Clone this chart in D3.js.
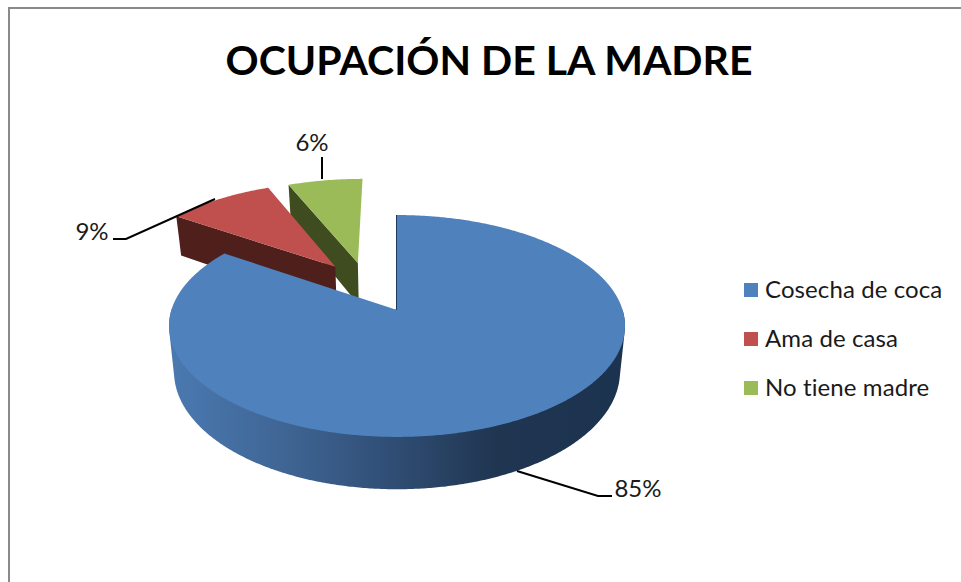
<!DOCTYPE html>
<html>
<head>
<meta charset="utf-8">
<script src="https://cdn.jsdelivr.net/npm/d3@7/dist/d3.min.js"></script>
<style>
html,body{margin:0;padding:0;background:#fff;overflow:hidden}
text{font-family:Lato,"Open Sans",sans-serif;fill:#1a1a1a}
</style>
</head>
<body>
<svg id="chart" width="961" height="582"></svg>
<script>
const titleText = "OCUPACIÓN DE LA MADRE";
const categories = ["Cosecha de coca", "Ama de casa", "No tiene madre"];
const values = [84.5, 9.1, 6.4];
const topColors = ["#4f81bd", "#c0504d", "#9bbb59"];
const sideColors = ["#1f3a5c", "#4f1f1c", "#3f4c20"];

// layout (not data)
const explode = [[0, 0], [-0.29, -0.423], [-0.185, -0.461]];
const P = {x0: 397, R: 225.6, yApex: 310, a: 64, k: 0.144, depth: 44.8, shrink: 0.022};
const labelLayout = [
  {x: 638, y: 488, path: [[612,496],[598,496],[517,471]]},
  {x: 92,  y: 231, path: [[113,239],[126,239],[215,199]]},
  {x: 312, y: 142, path: [[322,157],[322,179]]}
];

const svg = d3.select("#chart");

// frame
svg.append("path").attr("d", "M9,582V8H961").attr("fill", "none")
   .attr("stroke", "#8a8a8a").attr("stroke-width", 2);

svg.append("text").attr("x", 489).attr("y", 75).attr("text-anchor", "middle")
   .attr("font-size", 41).attr("font-weight", 700).style("fill", "#000").text(titleText);

// projection of the tilted disc
function project(u, v, z) {
  const w = 1 - P.k * v;
  return [
    P.x0 + P.R * u / w * (1 - P.shrink * z),
    (P.a * v + P.yApex) / w + P.depth * z / w
  ];
}
const rim = (t, off, z) => project(Math.sin(t) + off[0], -Math.cos(t) + off[1], z);
const line = d3.line();

const slices = d3.pie().sort(null).value(d => d)(values);
const defs = svg.append("defs");
const grad = defs.append("linearGradient").attr("id", "wall")
  .attr("gradientUnits", "userSpaceOnUse").attr("x1", 172).attr("x2", 626).attr("y1", 0).attr("y2", 0);
[[0, "#4a79b0"], [0.25, "#3f6594"], [0.5, "#2f4c72"], [0.72, "#1f3550"], [1, "#1c3350"]]
  .forEach(s => grad.append("stop").attr("offset", s[0]).attr("stop-color", s[1]));

const step = Math.PI / 180 / 2;
[2, 1, 0].forEach(i => {
  const s = slices[i], off = explode[i];
  const g = svg.append("g");
  const apexT = project(off[0], off[1], 0), apexB = project(off[0], off[1], 1);
  if (i === 0) {
    // outer wall of the big slice: silhouette of the upper and lower rims
    const ts = d3.range(Math.PI * 0.5, Math.PI * 1.5 + step, step);
    const hull = d3.polygonHull(ts.map(t => rim(t, off, 0)).concat(ts.map(t => rim(t, off, 1))));
    g.append("path").attr("d", line(hull) + "Z").attr("fill", "url(#wall)");
    // thin inner face at the start of the slice
    g.append("path").attr("d", line([apexT, rim(s.startAngle, off, 0)]))
      .attr("stroke", sideColors[0]).attr("stroke-width", 2).attr("fill", "none");
  } else {
    // cut face at the start of the slice
    g.append("path").attr("d", line([apexT, rim(s.startAngle, off, 0), rim(s.startAngle, off, 1), apexB]) + "Z")
      .attr("fill", sideColors[i]);
  }
  const arcPts = d3.range(s.startAngle, s.endAngle, step).concat([s.endAngle]).map(t => rim(t, off, 0));
  g.append("path").attr("d", line([apexT].concat(arcPts)) + "Z").attr("fill", topColors[i]);
});

// data labels with leader lines
slices.forEach((s, i) => {
  const l = labelLayout[i];
  svg.append("path").attr("d", line(l.path)).attr("fill", "none")
     .attr("stroke", "#000").attr("stroke-width", 2);
  svg.append("text").attr("x", l.x).attr("y", l.y + 9)
     .attr("text-anchor", "middle").attr("font-size", 24).text(d3.format(".0f")(s.data) + "%");
});

// legend
const legendY = d3.scalePoint().domain(categories).range([290, 388]);
categories.forEach((c, i) => {
  const y = legendY(c);
  svg.append("rect").attr("x", 744).attr("y", y - 7).attr("width", 14).attr("height", 14).attr("fill", topColors[i]);
  svg.append("text").attr("x", 765).attr("y", y + 8).attr("font-size", 24).attr("letter-spacing", 0.1).text(c);
});
</script>
</body>
</html>
